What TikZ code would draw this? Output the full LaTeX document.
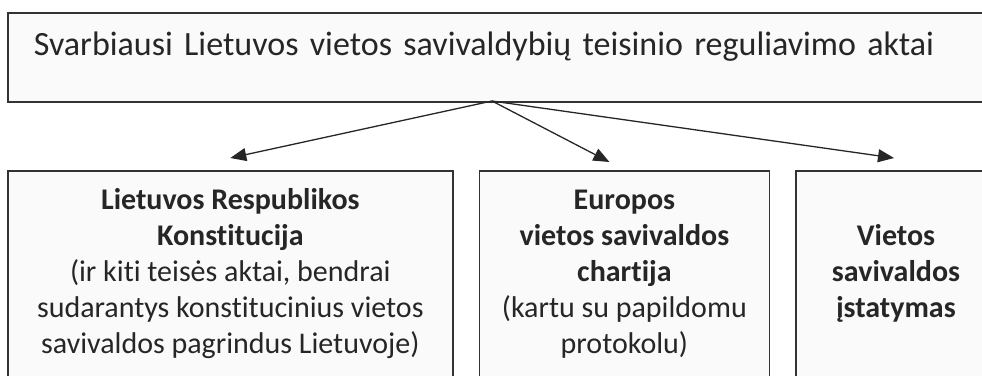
\documentclass[tikz,border=0pt]{standalone}
\usepackage{fontspec}
\setmainfont{Carlito}[Ligatures=NoCommon]
\usepackage{tikz}
\usetikzlibrary{positioning, arrows.meta}
\tikzset{
  box/.style={draw=black!80, line width=1.6pt, fill=black!2, text=black!85,
    align=center, inner sep=0pt, minimum height=206pt,
    font=\fontsize{30}{36}\selectfont},
  link/.style={draw=black!85, line width=1.3pt, -{Triangle[length=16pt,width=13pt]}}}

\begin{document}
\begin{tikzpicture}[x=1pt,y=-1pt]
  \useasboundingbox (0,0) rectangle (982,375);
  \node[box, anchor=north west, inner xsep=26pt, text width=960pt, align=left,
        minimum height=89pt, text height=43pt, text depth=46pt,
        font=\fontsize{34}{40}\selectfont]
        (acts) at (7,12) {Svarbiausi Lietuvos vietos savivaldybių teisinio reguliavimo aktai};
  \node[box, anchor=north west, minimum width=445pt] (constitution) at (7,170)
        {\textbf{Lietuvos Respublikos}\\ \textbf{Konstitucija}\\ (ir kiti teisės aktai, bendrai\\
         sudarantys konstitucinius vietos\\ savivaldos pagrindus Lietuvoje)};
  \node[box, minimum width=290pt, right=25pt of constitution] (charter)
        {\textbf{Europos}\\ \textbf{vietos savivaldos}\\ \textbf{chartija}\\ (kartu su papildomu\\ protokolu)};
  \node[box, minimum width=200pt, right=25pt of charter] (statute)
        {\textbf{Vietos}\\ \textbf{savivaldos}\\ \textbf{įstatymas}};
  \coordinate (hub) at (492,101);
  \draw[link] (hub) -- ([yshift=12pt]constitution.north);
  \draw[link] (hub) -- ([xshift=-15pt,yshift=8pt]charter.north);
  \draw[link] (hub) -- ([xshift=-2pt,yshift=12pt]statute.north);
\end{tikzpicture}
\end{document}
